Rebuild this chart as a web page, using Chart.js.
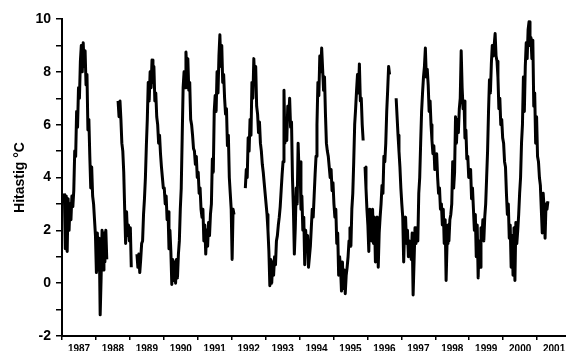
<!DOCTYPE html>
<html>
<head>
<meta charset="utf-8">
<script src="https://cdn.jsdelivr.net/npm/chart.js@4"></script>
<style>
  html, body { margin: 0; padding: 0; background: #fff; overflow: hidden; }
  #wrap { width: 600px; height: 351px; }
</style>
</head>
<body>
<div id="wrap"><canvas id="tempChart"></canvas></div>
<script>
// 10-day mean sea temperature, 36 values per year (null = missing)
const years = [1987, 1988, 1989, 1990, 1991, 1992, 1993, 1994, 1995, 1996, 1997, 1998, 1999, 2000, 2001];
const SAMPLES_PER_YEAR = 36;

const t1987 = [null, null, 3.4, 1.3, 3.3, 1.2, 3.2, 2.0, 3.0, 2.4, 3.3, 2.9, 3.5, 5.0, 4.8, 6.5, 5.9, 7.4, 7.0, 8.4, 9.0, 8.0, 9.1, 8.2, 8.8, 7.5, 7.9, 5.8, 6.2, 4.8, 3.6, 4.4, 3.3, 3.0, 2.4, 1.8];
const t1988 = [0.4, 1.9, 0.5, 1.7, -1.2, 0.2, 2.0, 0.5, 1.9, 0.8, 2.0, 0.9, null, null, null, null, null, null, null, null, null, null, null, 6.9, 6.3, 6.9, 6.2, 5.3, 5.0, 4.2, 2.8, 1.5, 2.7, 1.8, 2.2, 1.6];
const t1989 = [2.1, 0.6, null, null, null, null, null, 1.1, 0.6, 1.1, 0.4, 0.9, 1.5, 1.6, 2.6, 3.2, 4.0, 5.2, 6.2, 7.6, 6.9, 8.0, 7.4, 8.45, 7.6, 8.2, 6.9, 7.2, 6.3, 6.0, 5.3, 5.6, 4.9, 4.4, 4.0, 3.6];
const t1990 = [3.6, 3.0, 3.3, 2.4, 2.7, 1.3, 2.0, 1.2, -0.05, 0.9, 0.1, 0.8, 0.0, 0.9, 0.2, 1.1, 1.6, 2.8, 3.6, 5.5, 7.4, 8.0, 7.4, 8.75, 8.0, 8.5, 7.3, 7.6, 6.2, 6.0, 5.6, 5.1, 5.0, 4.5, 4.8, 4.0];
const t1991 = [4.2, 3.4, 3.6, 2.8, 2.5, 2.8, 1.6, 2.2, 1.1, 2.0, 1.4, 2.3, 1.8, 2.6, 3.0, 4.7, 4.2, 6.5, 7.1, 6.5, 8.0, 7.2, 8.6, 9.4, 8.2, 9.0, 7.6, 7.9, 7.0, 6.4, 6.6, 5.2, 5.6, 4.0, 3.4, 2.8];
const t1992 = [0.9, 2.8, 2.6, null, null, null, null, null, null, null, null, null, null, null, 3.6, 4.3, 4.0, 5.5, 5.0, 6.2, 5.6, 7.6, 7.0, 8.5, 7.6, 8.2, 6.7, 6.4, 5.7, 6.1, 5.3, 5.0, 4.5, 4.2, 3.8, 3.4];
const t1993 = [3.0, 2.6, 2.0, 1.2, -0.1, 0.9, 0.0, 0.8, 0.3, 1.0, 0.7, 1.6, 1.8, 2.2, 2.5, 2.9, 3.5, 4.1, 4.6, 7.3, 5.3, 6.0, 5.4, 6.7, 6.2, 7.0, 5.9, 6.1, 4.0, 2.8, 1.1, 2.1, 3.6, 3.0, 5.3, 4.2];
const t1994 = [4.6, 2.8, 3.3, 2.0, 2.5, 0.7, 2.0, 1.3, 1.8, 0.6, 1.0, 1.4, 2.1, 2.8, 2.5, 3.3, 4.1, 4.8, 6.0, 7.6, 7.1, 8.6, 8.0, 8.9, 8.1, 7.3, 7.8, 6.4, 5.3, 5.0, 4.8, 4.4, 4.0, 4.3, 3.5, 3.8];
const t1995 = [3.0, 2.5, 2.8, 1.5, 1.9, 0.3, 1.0, 0.6, -0.3, 0.8, -0.2, 0.5, -0.4, 0.3, 0.6, 1.0, 1.6, 2.1, 1.4, 2.8, 3.4, 4.6, 6.0, 6.6, 7.3, 7.9, 7.2, 8.3, 6.9, 7.0, 6.0, 5.4, null, 4.4, 3.6, 2.8];
const t1996 = [2.2, 1.2, 2.8, 2.0, 1.6, 2.8, 1.5, 2.5, 0.8, 2.2, 2.5, 0.6, 1.9, 2.5, 3.0, 3.7, 3.4, 4.8, 4.6, 5.3, 6.5, 7.3, 8.2, 7.9, null, null, null, null, null, null, 7.0, 6.3, 5.6, 5.0, 4.4, 3.6];
const t1997 = [3.0, 2.5, 0.8, 2.1, 2.5, 1.5, 2.0, 1.0, 1.6, 1.5, 0.9, 1.9, -0.45, 0.8, 2.1, 1.5, 1.9, 1.6, 3.4, 4.0, 5.3, 6.5, 7.2, 7.8, 8.2, 8.9, 7.8, 8.1, 7.5, 6.5, 6.9, 6.0, 5.4, 4.9, 5.2, 4.3];
const t1998 = [4.6, 4.9, 4.0, 3.4, 3.6, 2.8, 3.0, 2.2, 2.8, 1.5, 2.4, 0.1, 1.5, 2.2, 1.6, 2.4, 2.6, 3.0, 4.6, 3.6, 4.2, 6.3, 5.3, 6.2, 5.7, 6.6, 7.0, 8.8, 7.4, 6.6, 6.9, 5.5, 5.8, 4.7, 4.8, 4.0];
const t1999 = [4.0, 4.3, 3.2, 3.6, 2.8, 2.0, 2.6, 1.0, 2.2, 0.2, 1.6, 0.6, 2.1, 1.7, 2.4, 1.6, 2.5, 3.0, 4.0, 5.0, 6.5, 7.7, 7.2, 8.3, 9.0, 8.6, 9.0, 9.45, 8.6, 8.4, 7.8, 6.6, 7.0, 6.0, 6.2, 5.5];
const t2000 = [5.3, 4.6, 4.4, 3.4, 2.6, 3.0, 1.7, 2.2, 0.6, 1.8, 0.3, 2.1, 0.1, 2.3, 1.5, 2.0, 2.6, 3.4, 4.0, 5.3, 6.0, 7.8, 6.5, 8.2, 9.1, 8.5, 9.6, 9.9, 9.0, 9.3, 8.5, 9.2, 6.7, 7.2, 5.3, 6.3];
const t2001 = [4.8, 4.6, 4.0, 3.7, 2.8, 1.9, 3.4, 2.8, 1.7, 3.0, 2.8, 3.1];

const yTicks = [-2, 0, 2, 4, 6, 8, 10];
const FONT = "'Liberation Sans', Arial, Helvetica, sans-serif";

const series = [t1987, t1988, t1989, t1990, t1991, t1992, t1993, t1994, t1995, t1996, t1997, t1998, t1999, t2000, t2001];
const points = [];
series.forEach((vals, k) => {
  vals.forEach((v, i) => {
    points.push({ x: years[k] + (i + 0.5) / SAMPLES_PER_YEAR, y: v });
  });
});

const ctx = document.getElementById('tempChart').getContext('2d');
new Chart(ctx, {
  type: 'line',
  data: {
    datasets: [{
      data: points,
      borderColor: '#000',
      borderWidth: 3,
      borderJoinStyle: 'round',
      pointRadius: 0,
      tension: 0,
      spanGaps: false,
    }],
  },
  options: {
    responsive: true,
    maintainAspectRatio: false,
    animation: false,
    layout: { padding: { left: 0, right: 29, top: 19, bottom: 0 } },
    plugins: {
      legend: { display: false },
      tooltip: { enabled: false },
    },
    scales: {
      x: {
        type: 'linear',
        min: years[0],
        max: years[years.length - 1] + 1,
        afterFit: (scale) => { scale.height = 15; },
        ticks: {
          stepSize: 1,
          autoSkip: false,
          maxRotation: 0,
          labelOffset: 17,
          padding: 3,
          color: '#000',
          font: { family: FONT, size: 10, weight: 'bold' },
          callback: (v) => (years.includes(v) ? String(v) : ''),
        },
        grid: { drawOnChartArea: false, tickLength: 4, color: '#000', lineWidth: 1.5 },
        border: { color: '#000', width: 2 },
      },
      y: {
        min: yTicks[0],
        max: yTicks[yTicks.length - 1],
        afterFit: (scale) => { scale.width = 62; },
        ticks: {
          stepSize: 1,
          autoSkip: false,
          padding: 5,
          color: '#000',
          font: { family: FONT, size: 14, weight: 'bold' },
          callback: (v) => (yTicks.includes(v) ? String(v) : ''),
        },
        grid: { drawOnChartArea: false, tickLength: 6, color: '#000', lineWidth: 1.5 },
        border: { color: '#000', width: 2 },
        title: {
          display: true,
          text: 'Hitastig °C',
          color: '#000',
          font: { family: FONT, size: 14, weight: 'bold' },
          padding: { top: 12, bottom: 0 },
        },
      },
    },
  },
});
</script>
</body>
</html>
